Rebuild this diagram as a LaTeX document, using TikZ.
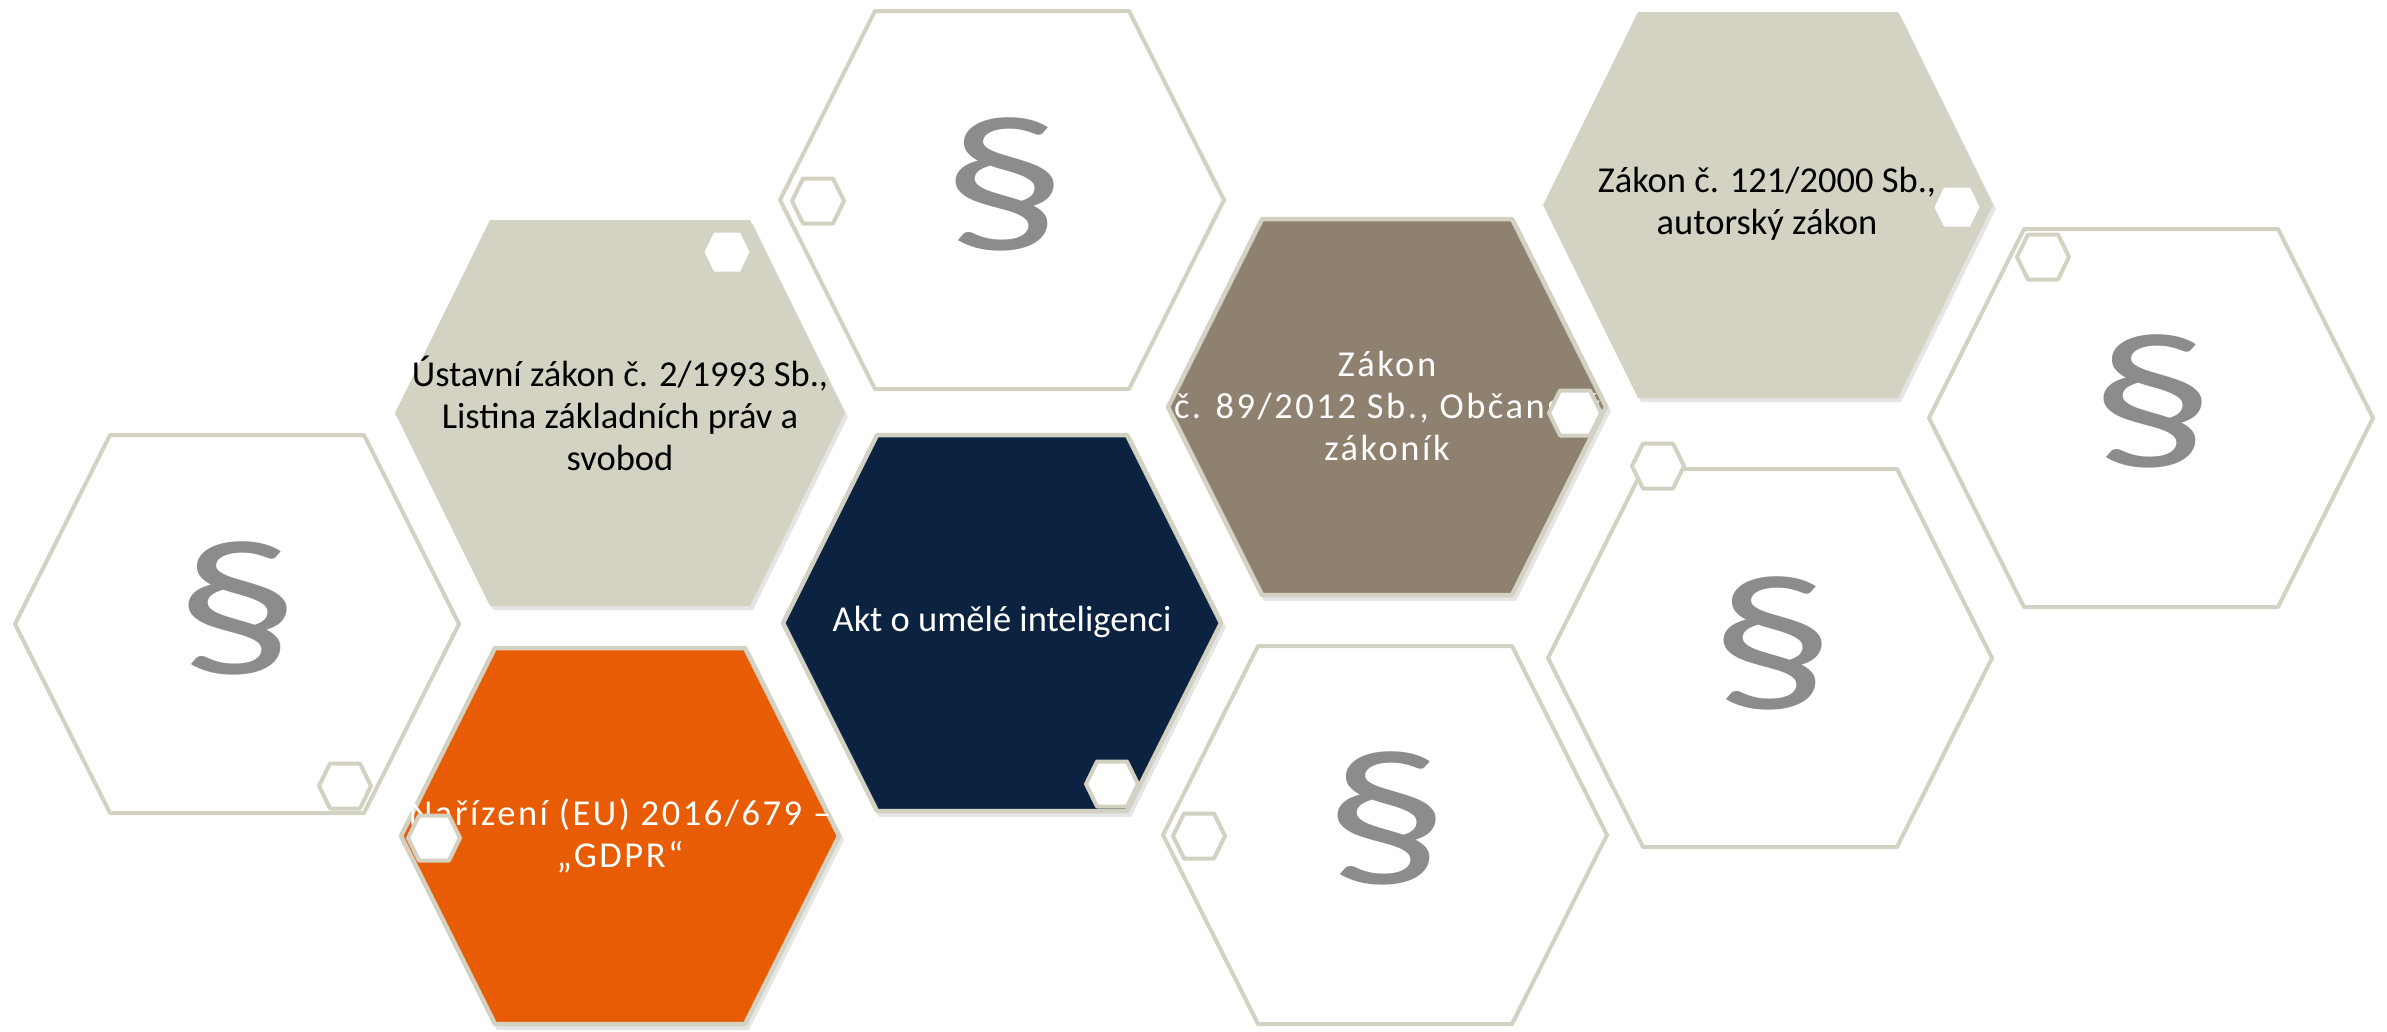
\documentclass[tikz,border=0pt]{standalone}
\usepackage{fontspec}
\setmainfont{Carlito}
\newfontfamily\spacedfont[LetterSpace=7]{Carlito}
\definecolor{hextan}{HTML}{D4D2C3}
\definecolor{hexline}{HTML}{D3D1C2}
\definecolor{hexbrown}{HTML}{8F8170}
\definecolor{hexnavy}{HTML}{0C2241}
\definecolor{hexorange}{HTML}{E85C05}
\definecolor{secgray}{HTML}{8C8C8C}
% hexagon path: cx cy halfwidth inset halfheight
\newcommand\hexp[5]{({#1-#3},{#2}) -- ({#1-#3+#4},{#2-#5}) -- ({#1+#3-#4},{#2-#5}) -- ({#1+#3},{#2}) -- ({#1+#3-#4},{#2+#5}) -- ({#1-#3+#4},{#2+#5}) -- cycle}
\newcommand\bigout[2]{\path[outlhex] \hexp{#1}{#2}{222}{95}{189};}
\newcommand\bigtan[2]{\path[shadowhex] \hexp{#1+3}{#2+4}{225}{95}{193};\path[fill=hextan] \hexp{#1}{#2}{225}{95}{193};}
\newcommand\bigcol[3]{\path[shadowhex] \hexp{#1+3}{#2+4}{221}{95}{190};\path[colhex=#3] \hexp{#1}{#2}{219}{94}{188};}
\newcommand\smallout[2]{\path[outlhex] \hexp{#1}{#2}{26}{11}{22.5};}
\newcommand\smallwhite[2]{\path[fill=white] \hexp{#1}{#2}{22.5}{9.5}{19.5};}
\begin{document}
\begin{tikzpicture}[x=1pt,y=-1pt,
  outlhex/.style={draw=hexline,line width=4pt,fill=white,line join=round},
  colhex/.style={draw=hexline,line width=4.5pt,fill=#1,line join=round},
  shadowhex/.style={fill=black,opacity=0.10},
  sect/.style={text=secgray,font=\fontsize{180}{200}\selectfont,inner sep=0pt,xscale=1.4},
  lbl/.style={align=center,font=\fontsize{36.5}{42}\selectfont,inner sep=0pt},
  slbl/.style={align=center,font=\spacedfont\fontsize{36.5}{42}\selectfont,inner sep=0pt,text=white}]
\useasboundingbox (0,0) rectangle (2387,1031);
\fill[white] (0,0) rectangle (2387,1031);
% big hexagons
\bigout{237}{624}
\bigtan{620}{413}
\bigout{1002}{200}
\bigcol{1002}{623}{hexnavy}
\bigcol{620}{836}{hexorange}
\bigcol{1387}{407}{hexbrown}
\bigtan{1768}{205}
\bigout{2151}{418}
\bigout{1770}{658}
\bigout{1385}{835}
% section signs
\node[sect] (sA) at (237,608) {§};
\node[sect] (sC) at (1004,184) {§};
\node[sect] (sH) at (2152,401) {§};
\node[sect] (sI) at (1772,643) {§};
\node[sect] (sJ) at (1386,818) {§};
% labels
\node[lbl,text=black] (ustava) at (620,413) {Ústavní zákon č. 2/1993 Sb.,\\Listina základních práv a\\svobod};
\node[lbl,text=white] (akt) at (1002,622) {Akt o umělé inteligenci};
\node[slbl] (gdpr) at (620,836) {Nařízení (EU) 2016/679 –\\„GDPR“};
\node[slbl] (obc) at (1387,406) {Zákon\\č. 89/2012 Sb., Občanský\\zákoník};
\node[lbl,text=black] (aut) at (1767,204) {Zákon č. 121/2000 Sb.,\\autorský zákon};
% small hexagons
\smallwhite{727}{252}
\smallwhite{1957}{207}
\smallout{818}{201}
\smallout{2043}{257}
\smallout{1575}{413}
\smallout{1658}{466}
\smallout{1112}{784}
\smallout{345}{786}
\smallout{434}{838}
\smallout{1199}{836}
\end{tikzpicture}
\end{document}
